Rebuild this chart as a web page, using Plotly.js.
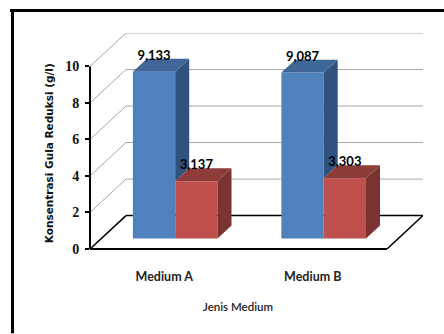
<!DOCTYPE html>
<html>
<head>
<meta charset="utf-8">
<script src="https://cdn.plot.ly/plotly-3.0.1.min.js"></script>
<style>
  html, body { margin: 0; padding: 0; background: #fff; }
  #chart { width: 444px; height: 334px; }
</style>
</head>
<body>
<div id="chart"></div>
<script>
// Reducing sugar concentration per growth medium
const categories = ['Medium A', 'Medium B'];
const seriesBlue = [9.133, 9.087];
const seriesRed = [3.137, 3.303];
const yTicks = [0, 2, 4, 6, 8, 10];

const blue = { front: '#4f81bd', top: '#3e6797', side: '#30527f' };
const red = { front: '#c0504d', top: '#8e3c3a', side: '#7a3331' };
const gridColor = '#a6a6a6';

// Oblique projection: offsets of the chart's back wall and of each bar's depth
const wallDx = 0.2424, wallDy = 1.83;
const barDx = 0.0943, barDy = 0.71;
const barBase = 0.574;   // bars stand slightly back from the front floor edge
const barShift = 0.0737;
const barWidth = 0.285;

const centers = categories.map((_, i) => i + 0.5 + barShift);
const tickPos = categories.map((_, i) => i + 0.5);

function face(xs, ys, color) {
  return {
    type: 'scatter', mode: 'lines', x: xs, y: ys, fill: 'toself',
    fillcolor: color, line: { width: 0 }, hoverinfo: 'skip', showlegend: false
  };
}

const traces = [
  { type: 'bar', x: centers, y: seriesBlue, base: barBase, width: barWidth, offset: -barWidth,
    marker: { color: blue.front }, hoverinfo: 'skip', showlegend: false },
  { type: 'bar', x: centers, y: seriesRed, base: barBase, width: barWidth, offset: 0,
    marker: { color: red.front }, hoverinfo: 'skip', showlegend: false }
];

categories.forEach((_, i) => {
  const c = centers[i];
  const blueTop = barBase + seriesBlue[i];
  const redTop = barBase + seriesRed[i];
  const l = c - barWidth, r = c + barWidth;
  // The red bar hides the lower part of the blue side face
  traces.push(face([c, c + barDx, c + barDx, c, c],
    [redTop, redTop + barDy, blueTop + barDy, blueTop, redTop], blue.side));
  traces.push(face([l, c, c + barDx, l + barDx, l],
    [blueTop, blueTop, blueTop + barDy, blueTop + barDy, blueTop], blue.top));
  traces.push(face([c, r, r + barDx, c + barDx, c],
    [redTop, redTop, redTop + barDy, redTop + barDy, redTop], red.top));
  traces.push(face([r, r + barDx, r + barDx, r, r],
    [barBase, barBase + barDy, redTop + barDy, redTop, barBase], red.side));
});

// Value labels with a decimal comma, above the front face of each bar
const fmt = v => v.toFixed(3).replace('.', ',');
const labelLift = 0.47;
const labelFont = { family: 'Lato, sans-serif', size: 13, color: '#000', weight: 700 };
traces.push({
  type: 'scatter', mode: 'text',
  x: centers.map(c => c - barWidth / 2).concat(centers.map(c => c + barWidth / 2)),
  y: seriesBlue.concat(seriesRed).map(v => v + barBase + labelLift),
  text: seriesBlue.concat(seriesRed).map(fmt),
  textposition: 'top center', textfont: labelFont,
  cliponaxis: false, hoverinfo: 'skip', showlegend: false
});

// Wall gridlines, floor outline and the two axis lines sit under the bars
const shapes = [];
function seg(x0, y0, x1, y1, color, width) {
  shapes.push({ type: 'line', layer: 'below', xref: 'x', yref: 'y', x0, y0, x1, y1,
    line: { color, width } });
}
const xEnd = categories.length;
yTicks.filter(t => t > 0).forEach(t => {
  seg(0, t, wallDx, t + wallDy, gridColor, 1);
  seg(wallDx, t + wallDy, xEnd + wallDx, t + wallDy, gridColor, 1);
});
seg(0, 0, wallDx, wallDy, '#000', 1.5);
seg(wallDx, wallDy, xEnd + wallDx, wallDy, '#000', 1.5);
seg(xEnd, 0, xEnd + wallDx, wallDy, '#000', 1.5);
shapes.push({ type: 'line', xref: 'paper', yref: 'y', x0: 0, x1: 0, y0: 0, y1: yTicks[yTicks.length - 1],
  line: { color: '#000', width: 2 } });
shapes.push({ type: 'line', xref: 'x', yref: 'paper', x0: 0, x1: xEnd, y0: 0, y1: 0,
  line: { color: '#000', width: 2 } });

const W = 444, H = 334;
const m = { l: 90, r: 21, t: 33, b: 84.5 };
const px = v => (v - m.l) / (W - m.l - m.r);
const py = v => (H - m.b - v) / (H - m.t - m.b);

// Page frame: heavy rule along the top and left edges
shapes.push({ type: 'line', xref: 'paper', yref: 'paper', x0: px(10), x1: px(444), y0: py(10.5), y1: py(10.5), line: { color: '#000', width: 3 } });
shapes.push({ type: 'line', xref: 'paper', yref: 'paper', x0: px(12.5), x1: px(12.5), y0: py(10), y1: py(334), line: { color: '#000', width: 3 } });

const layout = {
  width: W, height: H, margin: m,
  paper_bgcolor: '#fff', plot_bgcolor: 'rgba(0,0,0,0)',
  barmode: 'overlay', showlegend: false, shapes,
  xaxis: {
    range: [0, xEnd + wallDx], showgrid: false, zeroline: false, showline: false,
    tickmode: 'array', tickvals: tickPos, ticktext: categories, ticks: '',
    ticklabelstandoff: 18,
    tickfont: { family: 'Lato, sans-serif', size: 12.5, color: '#222', weight: 700 }
  },
  yaxis: {
    range: [0, 10 + wallDy], showgrid: false, zeroline: false, showline: false,
    tickmode: 'array', tickvals: yTicks, ticks: 'outside', ticklen: 4, tickwidth: 2, tickcolor: '#000',
    ticklabelstandoff: 3,
    tickfont: { family: 'Liberation Serif, serif', size: 14, color: '#111', weight: 700 }
  },
  annotations: [
    { text: '<b>Konsentrasi Gula Reduksi (g/l)</b>', xref: 'paper', yref: 'paper', x: px(49), y: py(153.5),
      textangle: -90, showarrow: false, xanchor: 'center', yanchor: 'middle',
      font: { family: 'DejaVu Sans, sans-serif', size: 10.5, color: '#111' } },
    { text: 'Jenis Medium', xref: 'paper', yref: 'paper', x: px(238), y: py(307),
      showarrow: false, xanchor: 'center', yanchor: 'middle',
      font: { family: 'Lato, sans-serif', size: 11.5, color: '#222', weight: 600 } }
  ]
};

Plotly.newPlot('chart', traces, layout, { displayModeBar: false, staticPlot: true });
</script>
</body>
</html>
